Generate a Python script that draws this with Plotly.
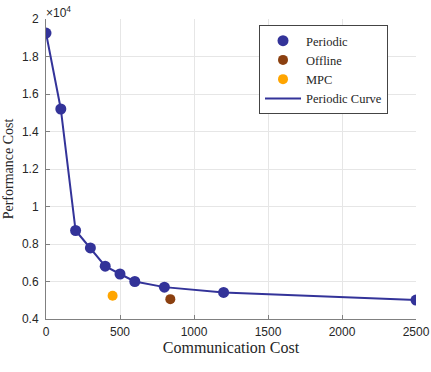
import plotly.graph_objects as go

periodic_x = [0, 100, 200, 300, 400, 500, 600, 800, 1200, 2500]
periodic_y = [19250, 15200, 8720, 7790, 6820, 6400, 6000, 5700, 5420, 5010]
offline_x = [840]
offline_y = [5060]
mpc_x = [450]
mpc_y = [5240]
y_ticks = [4000, 6000, 8000, 10000, 12000, 14000, 16000, 18000, 20000]
y_tick_labels = ["0.4", "0.6", "0.8", "1", "1.2", "1.4", "1.6", "1.8", "2"]
x_ticks = [0, 500, 1000, 1500, 2000, 2500]

blue = "#333399"
serif = "Liberation Serif"
sans = "Liberation Sans"
txt = "#262626"

fig = go.Figure()
fig.add_trace(go.Scatter(x=periodic_x, y=periodic_y, mode="lines", name="Periodic Curve",
                         line=dict(color=blue, width=2), legendrank=4))
fig.add_trace(go.Scatter(x=periodic_x, y=periodic_y, mode="markers", name="Periodic",
                         marker=dict(color=blue, size=11), legendrank=1))
fig.add_trace(go.Scatter(x=offline_x, y=offline_y, mode="markers", name="Offline",
                         marker=dict(color="#8B4010", size=10), legendrank=2))
fig.add_trace(go.Scatter(x=mpc_x, y=mpc_y, mode="markers", name="MPC",
                         marker=dict(color="#FFA500", size=10), legendrank=3))

axis_common = dict(showgrid=True, gridcolor="#e6e6e6", gridwidth=1, zeroline=False,
                   showline=True, linecolor="#808080", linewidth=1,
                   ticks="inside", ticklen=4, tickcolor="#808080",
                   automargin=False,
                   tickfont=dict(family=sans, size=12, color=txt))

fig.update_xaxes(range=[0, 2500], tickvals=x_ticks, ticklabelstandoff=2,
                 title=dict(text="Communication Cost", font=dict(family=serif, size=16, color=txt), standoff=2),
                 **axis_common)
fig.update_yaxes(range=[4000, 20000], tickvals=y_ticks, ticktext=y_tick_labels, ticklabelstandoff=4,
                 title=dict(text="Performance Cost", font=dict(family=serif, size=14, color=txt), standoff=5),
                 **axis_common)

fig.add_annotation(xref="paper", yref="paper", x=0, y=1, xanchor="left", yanchor="bottom",
                   text="×10<sup>4</sup>", showarrow=False,
                   font=dict(family=sans, size=12, color=txt), xshift=-2, yshift=-3)

fig.update_layout(
    width=431, height=372,
    margin=dict(l=46, r=15, t=19, b=53),
    plot_bgcolor="white", paper_bgcolor="white",
    legend=dict(x=0.5757, y=0.98, xanchor="left", yanchor="top",
                bgcolor="white", bordercolor="#444444", borderwidth=1,
                font=dict(family=serif, size=12.5, color=txt),
                itemwidth=36, tracegroupgap=0),
    showlegend=True,
)

fig.write_html("out.html",
               config={"displayModeBar": False},
               post_script="document.body.style.margin='0';document.body.style.padding='0';")
